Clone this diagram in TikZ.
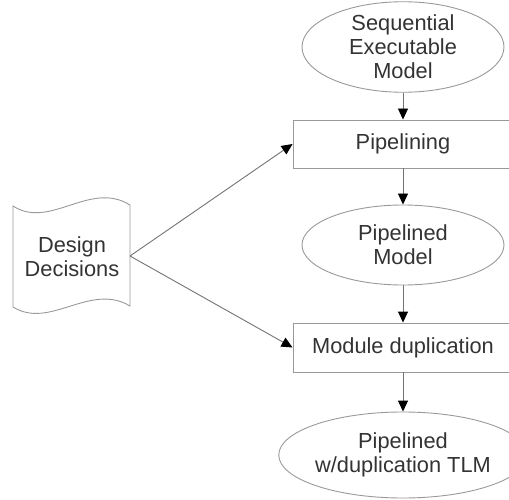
\documentclass[tikz,border=0pt]{standalone}
\usepackage{fontspec}
\setmainfont{Liberation Sans}
\usetikzlibrary{shapes.geometric,arrows.meta}
\begin{document}
\begin{tikzpicture}[x=1pt,y=-1pt,
  outline/.style={draw=black!40,line width=0.9pt},
  label/.style={align=center,font=\fontsize{21.8}{24}\selectfont,text=black!80},
  model/.style={outline,label,ellipse,minimum width=202pt,minimum height=88pt,inner sep=0pt},
  stage/.style={outline,label,rectangle,minimum width=220pt,minimum height=48pt,inner sep=0pt},
  flow/.style={draw=black!55,line width=0.9pt,-{Triangle[length=11pt,width=10pt,color=black]}}]
\useasboundingbox (0,0) rectangle (509,500);
\clip (0,0) rectangle (509,500);

% main flow on the right
\node[model] (seq) at (403,47) {Sequential\\Executable\\Model};
\node[stage] (pipe) at (403,144) {Pipelining};
\node[model,minimum height=80pt] (pmod) at (403,245) {Pipelined\\Model};
\node[stage,minimum height=49pt] (dup) at (403,347.5) {Module duplication};
\node[model,minimum height=86pt] (tlm) at (403,455) {Pipelined\\w/duplication TLM};

% design decisions, drawn as a tape
\draw[outline] (13,206) .. controls (50,230) and (90,180) .. (130,205)
  -- (130,306) .. controls (90,282) and (50,330) .. (13,307) -- cycle;
\node[label] (dd) at (72,257) {Design\\Decisions};
\coordinate (ddr) at (130,256);

\draw[flow] (seq) -- (pipe);
\draw[flow] (pipe) -- (pmod);
\draw[flow] (pmod) -- (dup);
\draw[flow] (dup) -- (tlm);
\draw[flow] (ddr) -- (pipe.west);
\draw[flow] (ddr) -- (dup.west);
\end{tikzpicture}
\end{document}
